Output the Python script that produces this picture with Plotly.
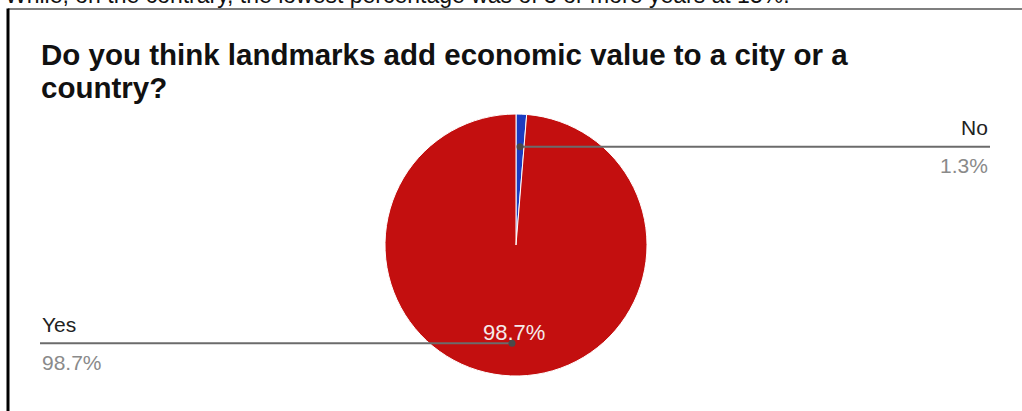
import math
import plotly.graph_objects as go

# Survey answers
labels = ["No", "Yes"]
values = [1.3, 98.7]
colors = ["#1c3cc0", "#c30f0f"]
title_lines = ["Do you think landmarks add economic value to a city or a", "country?"]
caption_text = "While, on the contrary, the lowest percentage was of 3 or more years at 15%."

FONT = "Liberation Sans"
W, H = 1022, 411
# pie placement in pixels
cx, cy, r = 516, 245, 131


def px(x):
    return x / W


def py(y):
    return 1 - y / H


fig = go.Figure()
fig.add_trace(go.Pie(
    labels=labels,
    values=values,
    sort=False,
    direction="clockwise",
    rotation=0,
    marker=dict(colors=colors, line=dict(color="white", width=1)),
    textinfo="none",
    hoverinfo="label+percent",
    showlegend=False,
    domain=dict(x=[px(cx - r), px(cx + r)], y=[py(cy + r), py(cy - r)]),
))

shapes = []
annotations = []

total = sum(values)
start = 0.0
for lab, v in zip(labels, values):
    frac = v / total
    mid = (start + frac / 2) * 2 * math.pi
    start += frac
    dx = cx + 0.75 * r * math.sin(mid)
    dy = cy - 0.75 * r * math.cos(mid)
    pct = f"{100 * frac:.1f}%"
    right = math.sin(mid) >= 0
    end_x = 990 if right else 40
    anchor = "right" if right else "left"
    shapes.append(dict(type="line", xref="paper", yref="paper",
                       x0=px(dx), y0=py(dy), x1=px(end_x), y1=py(dy),
                       line=dict(color="#6b6b6b", width=2)))
    shapes.append(dict(type="circle", xref="paper", yref="paper",
                       x0=px(dx - 3.5), y0=py(dy - 3.5), x1=px(dx + 3.5), y1=py(dy + 3.5),
                       fillcolor="#4a4a4a", line=dict(width=0)))
    annotations.append(dict(x=px(end_x), y=py(dy - 19), xref="paper", yref="paper",
                            text=lab, showarrow=False, xanchor=anchor, yanchor="middle",
                            font=dict(family=FONT, size=21, color="#222222")))
    annotations.append(dict(x=px(end_x), y=py(dy + 19), xref="paper", yref="paper",
                            text=pct, showarrow=False, xanchor=anchor, yanchor="middle",
                            font=dict(family=FONT, size=21, color="#8a8a8a")))
    if frac > 0.5:
        tx = cx + 0.67 * r * math.sin(mid)
        ty = cy - 0.67 * r * math.cos(mid)
        annotations.append(dict(x=px(tx + 2), y=py(ty), xref="paper", yref="paper",
                                text=pct, showarrow=False, xanchor="center", yanchor="middle",
                                font=dict(family=FONT, size=22, color="#f4eaea")))

# chart title, two lines
for line, yc in zip(title_lines, [54, 88]):
    annotations.append(dict(x=px(39), y=py(yc), xref="paper", yref="paper",
                            text=f"<b>{line}</b>", showarrow=False,
                            xanchor="left", yanchor="middle",
                            font=dict(family=FONT, size=29.5, color="#111111")))

# caption line above the frame, partly off the top edge
annotations.append(dict(x=px(3), y=py(-4.5), xref="paper", yref="paper",
                        text=caption_text, showarrow=False, xanchor="left", yanchor="middle",
                        font=dict(family=FONT, size=23, color="#111111")))

# frame around the chart
shapes.append(dict(type="line", xref="paper", yref="paper",
                   x0=px(8), y0=py(9), x1=px(W + 5), y1=py(9),
                   line=dict(color="#555555", width=1.5)))
shapes.append(dict(type="line", xref="paper", yref="paper",
                   x0=px(8), y0=py(8.5), x1=px(8), y1=py(H + 5),
                   line=dict(color="#000000", width=3)))

fig.update_layout(
    width=W, height=H,
    margin=dict(l=0, r=0, t=0, b=0),
    paper_bgcolor="white",
    plot_bgcolor="white",
    shapes=shapes,
    annotations=annotations,
)

fig.write_html("out.html")
